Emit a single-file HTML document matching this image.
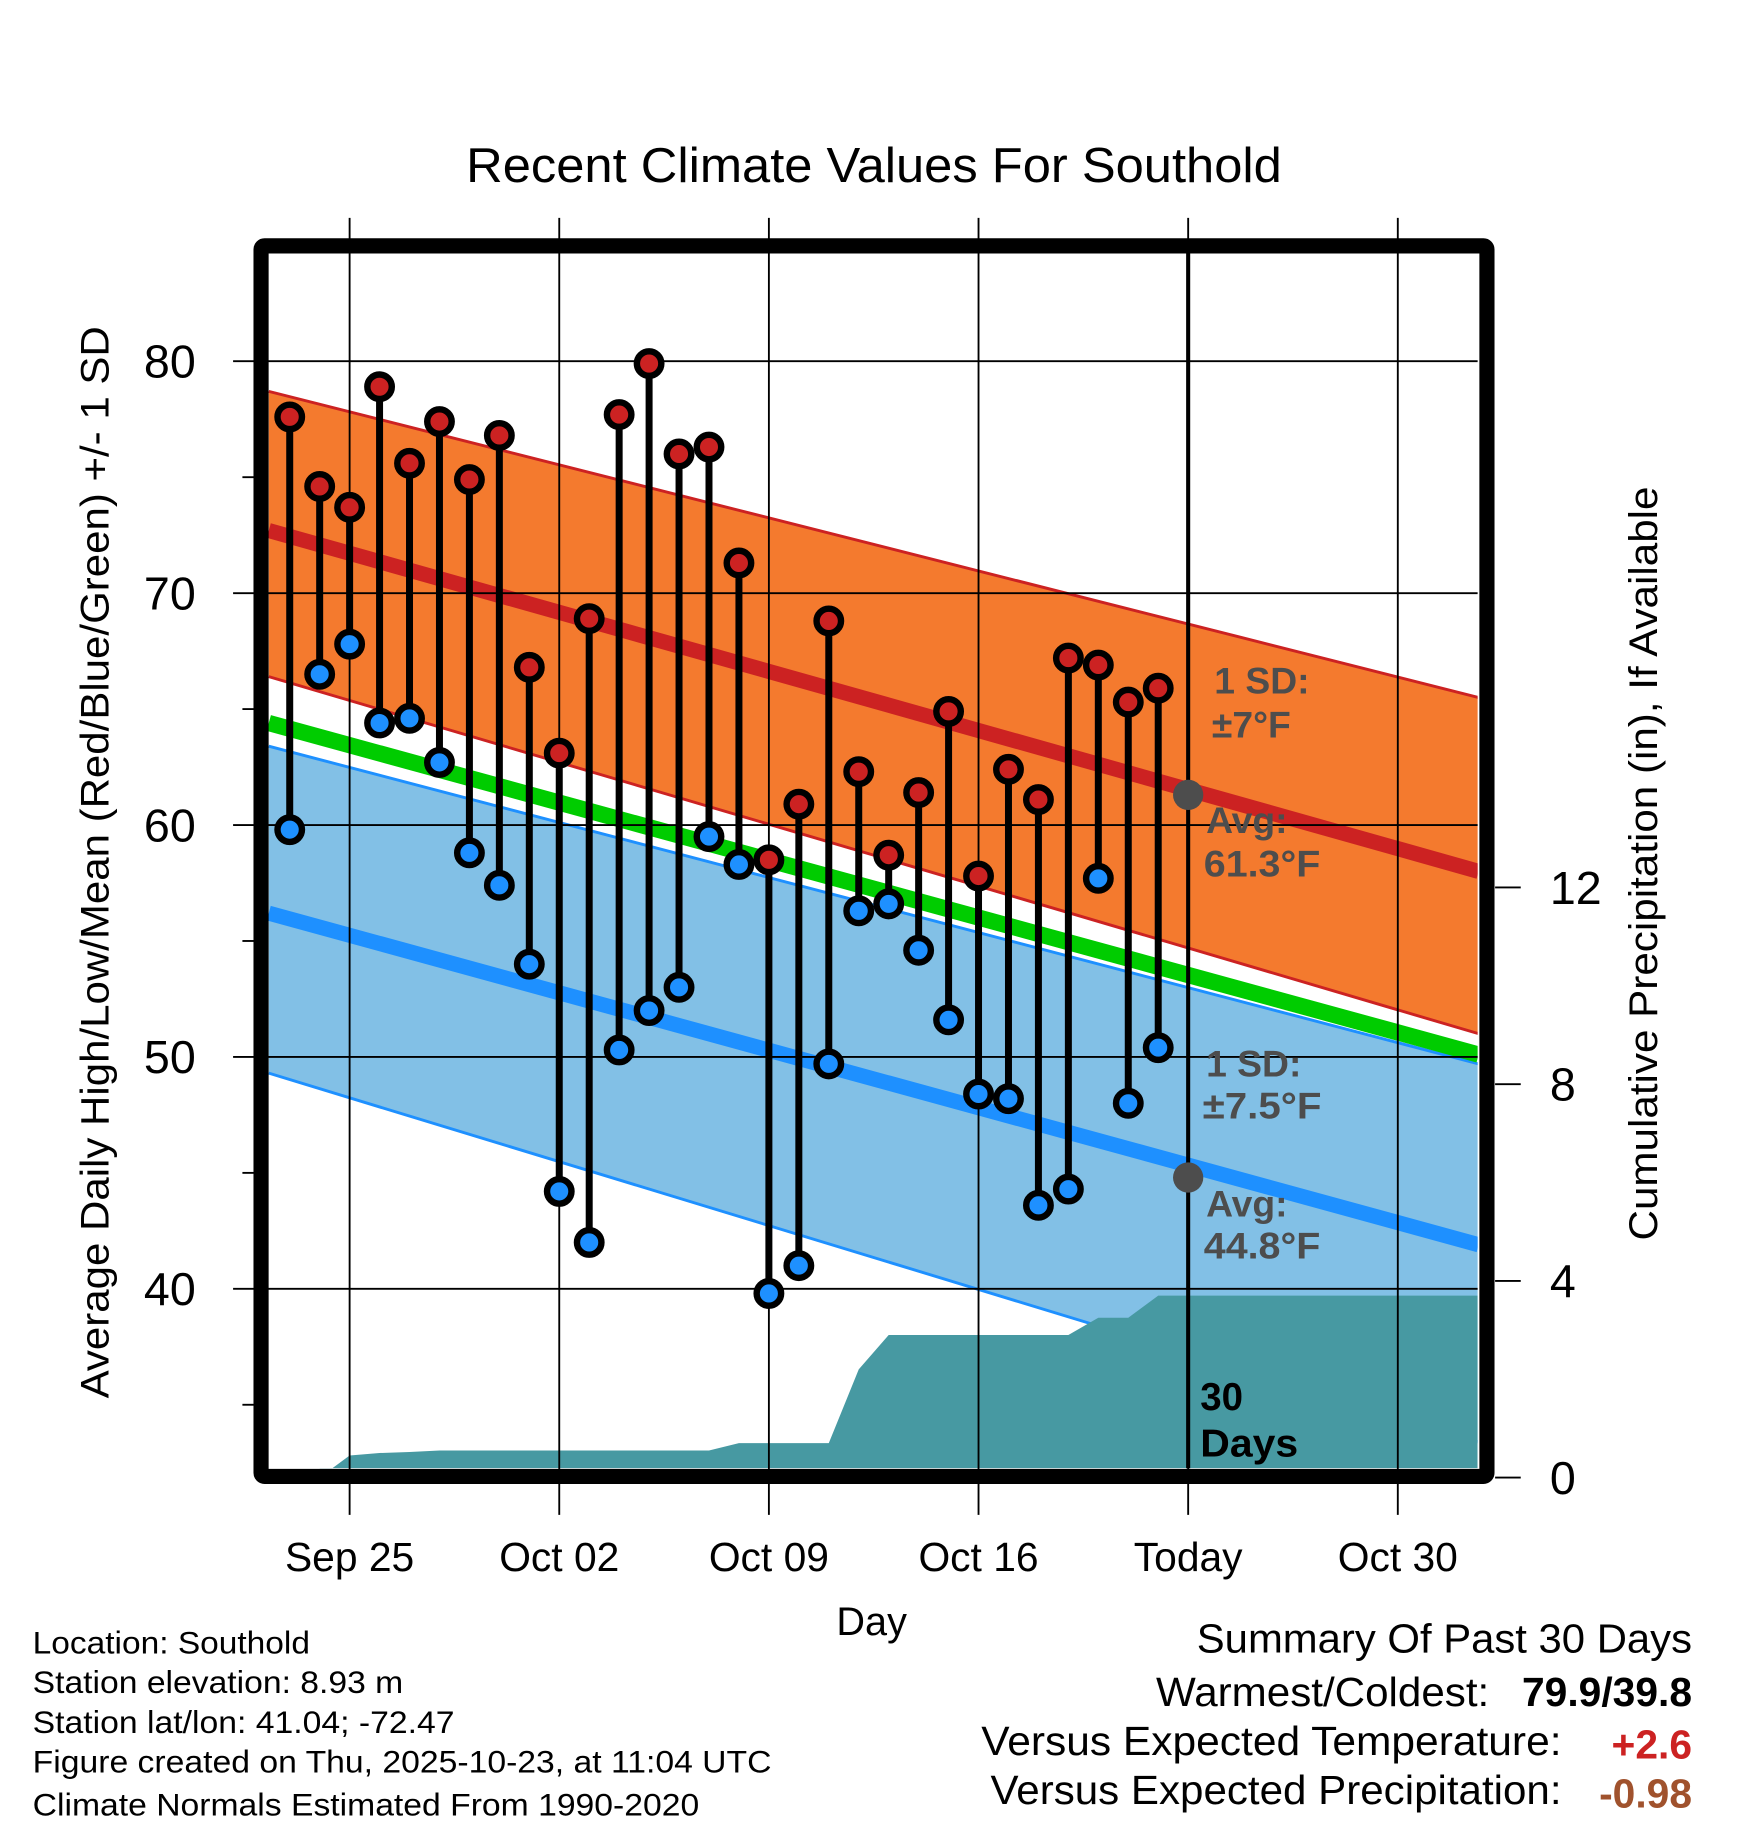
<!DOCTYPE html>
<html><head><meta charset="utf-8"><style>
html,body{margin:0;padding:0;background:#fff}
svg{display:block;font-family:"Liberation Sans",Arial,sans-serif}
</style></head><body>
<svg id="chart" width="1748" height="1828" viewBox="0 0 1500 1568.7" xmlns="http://www.w3.org/2000/svg">
<rect width="1500" height="1568.7" fill="#fff"/>
<g id="layer-fill"></g>
<g id="layer-grid"></g>
<g id="layer-data"></g>
<g id="layer-frame"></g>
<g id="layer-text"></g>
</svg>
<script>
// ---- data ----
const dayLabels = ["Sep 25","Oct 02","Oct 09","Oct 16","Today","Oct 30"];
const dayTicks = [2,9,16,23,30,37];
const highs = [77.6,74.6,73.7,78.9,75.6,77.4,74.9,76.8,66.8,63.1,68.9,77.7,79.9,76.0,76.3,71.3,58.5,60.9,68.8,62.3,58.7,61.4,64.9,57.8,62.4,61.1,67.2,66.9,65.3,65.9];
const lows = [59.8,66.5,67.8,64.4,64.6,62.7,58.8,57.4,54.0,44.2,42.0,50.3,52.0,53.0,59.5,58.3,39.8,41.0,49.7,56.3,56.6,54.6,51.6,48.4,48.2,43.6,44.3,57.7,48.0,50.4];
const precip = [0,0,0.45,0.5,0.52,0.55,0.55,0.55,0.55,0.55,0.55,0.55,0.55,0.55,0.55,0.7,0.7,0.7,0.7,2.2,2.9,2.9,2.9,2.9,2.9,2.9,2.9,3.25,3.25,3.7];
const normDays = [-0.7,39.7];
const normHigh = [72.7,58.0];
const normHighTop = [78.7,65.5];
const normHighBot = [66.4,51.0];
const normMean = [64.4,50.1];
const normLow = [56.2,41.9];
const normLowTop = [63.4,49.7];
const normLowBot = [49.3,33.4];
const tempTicks = [40,50,60,70,80];
const minorTicks = [35,45,55,65,75];
const precipTicks = [0,4,8,12];
const todayHigh = 61.3, todayLow = 44.8;

// ---- axes ----
const X0=230,X1=1268,Y0=217,Y1=1260;
const xs = d => 248.6 + d*25.7;
const ys = t => 310 + (80-t)*19.9;
const yp = p => 1268 - p*42.2;
const NS="http://www.w3.org/2000/svg";
function mk(tag, attrs, parent){const e=document.createElementNS(NS,tag);for(const k in attrs)e.setAttribute(k,attrs[k]);parent.appendChild(e);return e;}
const gF=document.getElementById('layer-fill'),gG=document.getElementById('layer-grid'),gD=document.getElementById('layer-data'),gR=document.getElementById('layer-frame'),gT=document.getElementById('layer-text');

function band(top,bot,fill,name){
  const xa=xs(normDays[0]),xb=xs(normDays[1]);
  const p=mk('polygon',{points:`${xa},${ys(top[0])} ${xb},${ys(top[1])} ${xb},${ys(bot[1])} ${xa},${ys(bot[0])}`,fill:fill},gF);
  
  
}
function nline(arr,color,w,name){
  const l=mk('line',{x1:xs(normDays[0]),y1:ys(arr[0]),x2:xs(normDays[1]),y2:ys(arr[1]),stroke:color,'stroke-width':w},gF);
  
  
}
const defs=mk('defs',{},document.getElementById('chart'));
const cp=mk('clipPath',{id:'plotclip'},defs);mk('rect',{x:X0,y:Y0,width:X1-X0,height:Y1-Y0},cp);
gF.setAttribute('clip-path','url(#plotclip)');
band(normHighTop,normHighBot,'#f47a2e','high-sd-band');
nline(normHighTop,'#cc2222',2.5,'high-sd-top-line');
nline(normHighBot,'#cc2222',2.5,'high-sd-bottom-line');
band(normLowTop,normLowBot,'#82c0e6','low-sd-band');
nline(normLowTop,'#1e90ff',2.5,'low-sd-top-line');
nline(normLowBot,'#1e90ff',2.5,'low-sd-bottom-line');
nline(normMean,'#00cc00',14,'normal-mean-line');
nline(normHigh,'#cc2222',13,'normal-high-line');
nline(normLow,'#1e90ff',13,'normal-low-line');
let pts=`${xs(1)},${Y1} `;
precip.forEach((v,i)=>{ if(i>=1) pts+=`${xs(i)},${yp(v)} `; });
pts+=`${X1},${yp(precip[precip.length-1])} ${X1},${Y1}`;
const pa=mk('polygon',{points:pts,fill:'#4799a2'},gF);



tempTicks.forEach(t=>{
  const l=mk('line',{x1:200,y1:ys(t),x2:X1,y2:ys(t),stroke:'#000','stroke-width':1.6},gG);
  
  
  const tx=mk('text',{x:168,y:ys(t)+14,'font-size':40,'text-anchor':'end'},gT);tx.textContent=t;
  
  
});
minorTicks.forEach(t=>{
  const l=mk('line',{x1:208,y1:ys(t),x2:218,y2:ys(t),stroke:'#000','stroke-width':1.6},gG);
  
  
});
dayTicks.forEach((d,i)=>{
  const l=mk('line',{x1:xs(d),y1:187,x2:xs(d),y2:1300,stroke:'#000','stroke-width':1.6},gG);
  
  
  const tx=mk('text',{x:xs(d),y:1348,'font-size':35,'text-anchor':'middle'},gT);tx.textContent=dayLabels[i];
  
  
});
precipTicks.forEach(p=>{
  const l=mk('line',{x1:1283,y1:yp(p),x2:1305,y2:yp(p),stroke:'#000','stroke-width':1.6},gG);
  
  
  const tx=mk('text',{x:1330,y:yp(p)+14,'font-size':40},gT);tx.textContent=p;
  
  
});
const tl=mk('line',{x1:xs(30),y1:Y0,x2:xs(30),y2:Y1,stroke:'#000','stroke-width':3.5},gD);


highs.forEach((h,i)=>{
  const s=mk('line',{x1:xs(i),y1:ys(h),x2:xs(i),y2:ys(lows[i]),stroke:'#000','stroke-width':6},gD);
  
  
});
highs.forEach((h,i)=>{
  const c=mk('circle',{cx:xs(i),cy:ys(h),r:10.5,fill:'#cc2222',stroke:'#000','stroke-width':5.5},gD);
  
  
  const c2=mk('circle',{cx:xs(i),cy:ys(lows[i]),r:10.5,fill:'#1e90ff',stroke:'#000','stroke-width':5.5},gD);
  
  
});
const th=mk('circle',{cx:xs(30),cy:ys(todayHigh),r:13,fill:'#4d4d4d'},gD);


const tlw=mk('circle',{cx:xs(30),cy:ys(todayLow),r:13,fill:'#4d4d4d'},gD);


const fr=mk('rect',{x:224,y:211,width:1052,height:1056,fill:'none',stroke:'#000','stroke-width':13,rx:3},gR);


</script>
<script>
(function(){
const NS="http://www.w3.org/2000/svg";const g=document.getElementById('layer-text');
function t(txt,x,y,size,opts,name){const e=document.createElementNS(NS,'text');e.setAttribute('x',x);e.setAttribute('y',y);e.setAttribute('font-size',size);for(const k in (opts||{}))e.setAttribute(k,opts[k]);e.textContent=txt;


g.appendChild(e);return e;}
const fit=w=>({textLength:w,lengthAdjust:'spacingAndGlyphs'});
t('Recent Climate Values For Southold',750,156,42,Object.assign({'text-anchor':'middle'},fit(700)),'chart-title');
t('Average Daily High/Low/Mean (Red/Blue/Green) +/- 1 SD',93,740,34,Object.assign({'text-anchor':'middle',transform:'rotate(-90 93 740)'},fit(920)),'y-axis-title');
t('Cumulative Precipitation (in), If Available',1422,741,34,Object.assign({'text-anchor':'middle',transform:'rotate(-90 1422 741)'},fit(647)),'y2-axis-title');
t('Day',748,1403,34,{'text-anchor':'middle'},'x-axis-title');
const gray={fill:'#4d4d4d','font-weight':'bold'};
t('1 SD:',1042,595,32,gray,'high-sd-label');
t('±7°F',1040,633,32,gray,'high-sd-value');
t('Avg:',1035,715,32,gray,'high-avg-label');
t('61.3°F',1033,752,32,Object.assign({},gray,fit(100)),'high-avg-value');
t('1 SD:',1035,924,32,gray,'low-sd-label');
t('±7.5°F',1032,960,32,Object.assign({},gray,fit(102)),'low-sd-value');
t('Avg:',1035,1044,32,gray,'low-avg-label');
t('44.8°F',1033,1080,32,Object.assign({},gray,fit(100)),'low-avg-value');
t('30',1030,1210,33,{'font-weight':'bold'},'days-label-number');
t('Days',1030,1250,33,Object.assign({'font-weight':'bold'},fit(84)),'days-label-text');
const foot=['Location: Southold','Station elevation: 8.93 m','Station lat/lon: 41.04; -72.47','Figure created on Thu, 2025-10-23, at 11:04 UTC','Climate Normals Estimated From 1990-2020'];
const fy=[1419,1453,1487,1521,1558];const fw=[238,318,362,634,572];
foot.forEach((s,i)=>t(s,28,fy[i],27,fit(fw[i]),'footer-info-line'));
t('Summary Of Past 30 Days',1027,1418,35,fit(425),'summary-title');
t('Warmest/Coldest:',992,1464,35,fit(286),'summary-warmest-label');
t('79.9/39.8',1452,1464,35,{'text-anchor':'end','font-weight':'bold'},'summary-warmest-value');
t('Versus Expected Temperature:',842,1506,35,fit(498),'summary-temp-label');
t('+2.6',1452,1509,35,{'text-anchor':'end','font-weight':'bold',fill:'#cc2222'},'summary-temp-value');
t('Versus Expected Precipitation:',850,1548,35,fit(490),'summary-precip-label');
t('-0.98',1452,1551,35,{'text-anchor':'end','font-weight':'bold',fill:'#a0522d'},'summary-precip-value');
})();
</script>
</body></html>
